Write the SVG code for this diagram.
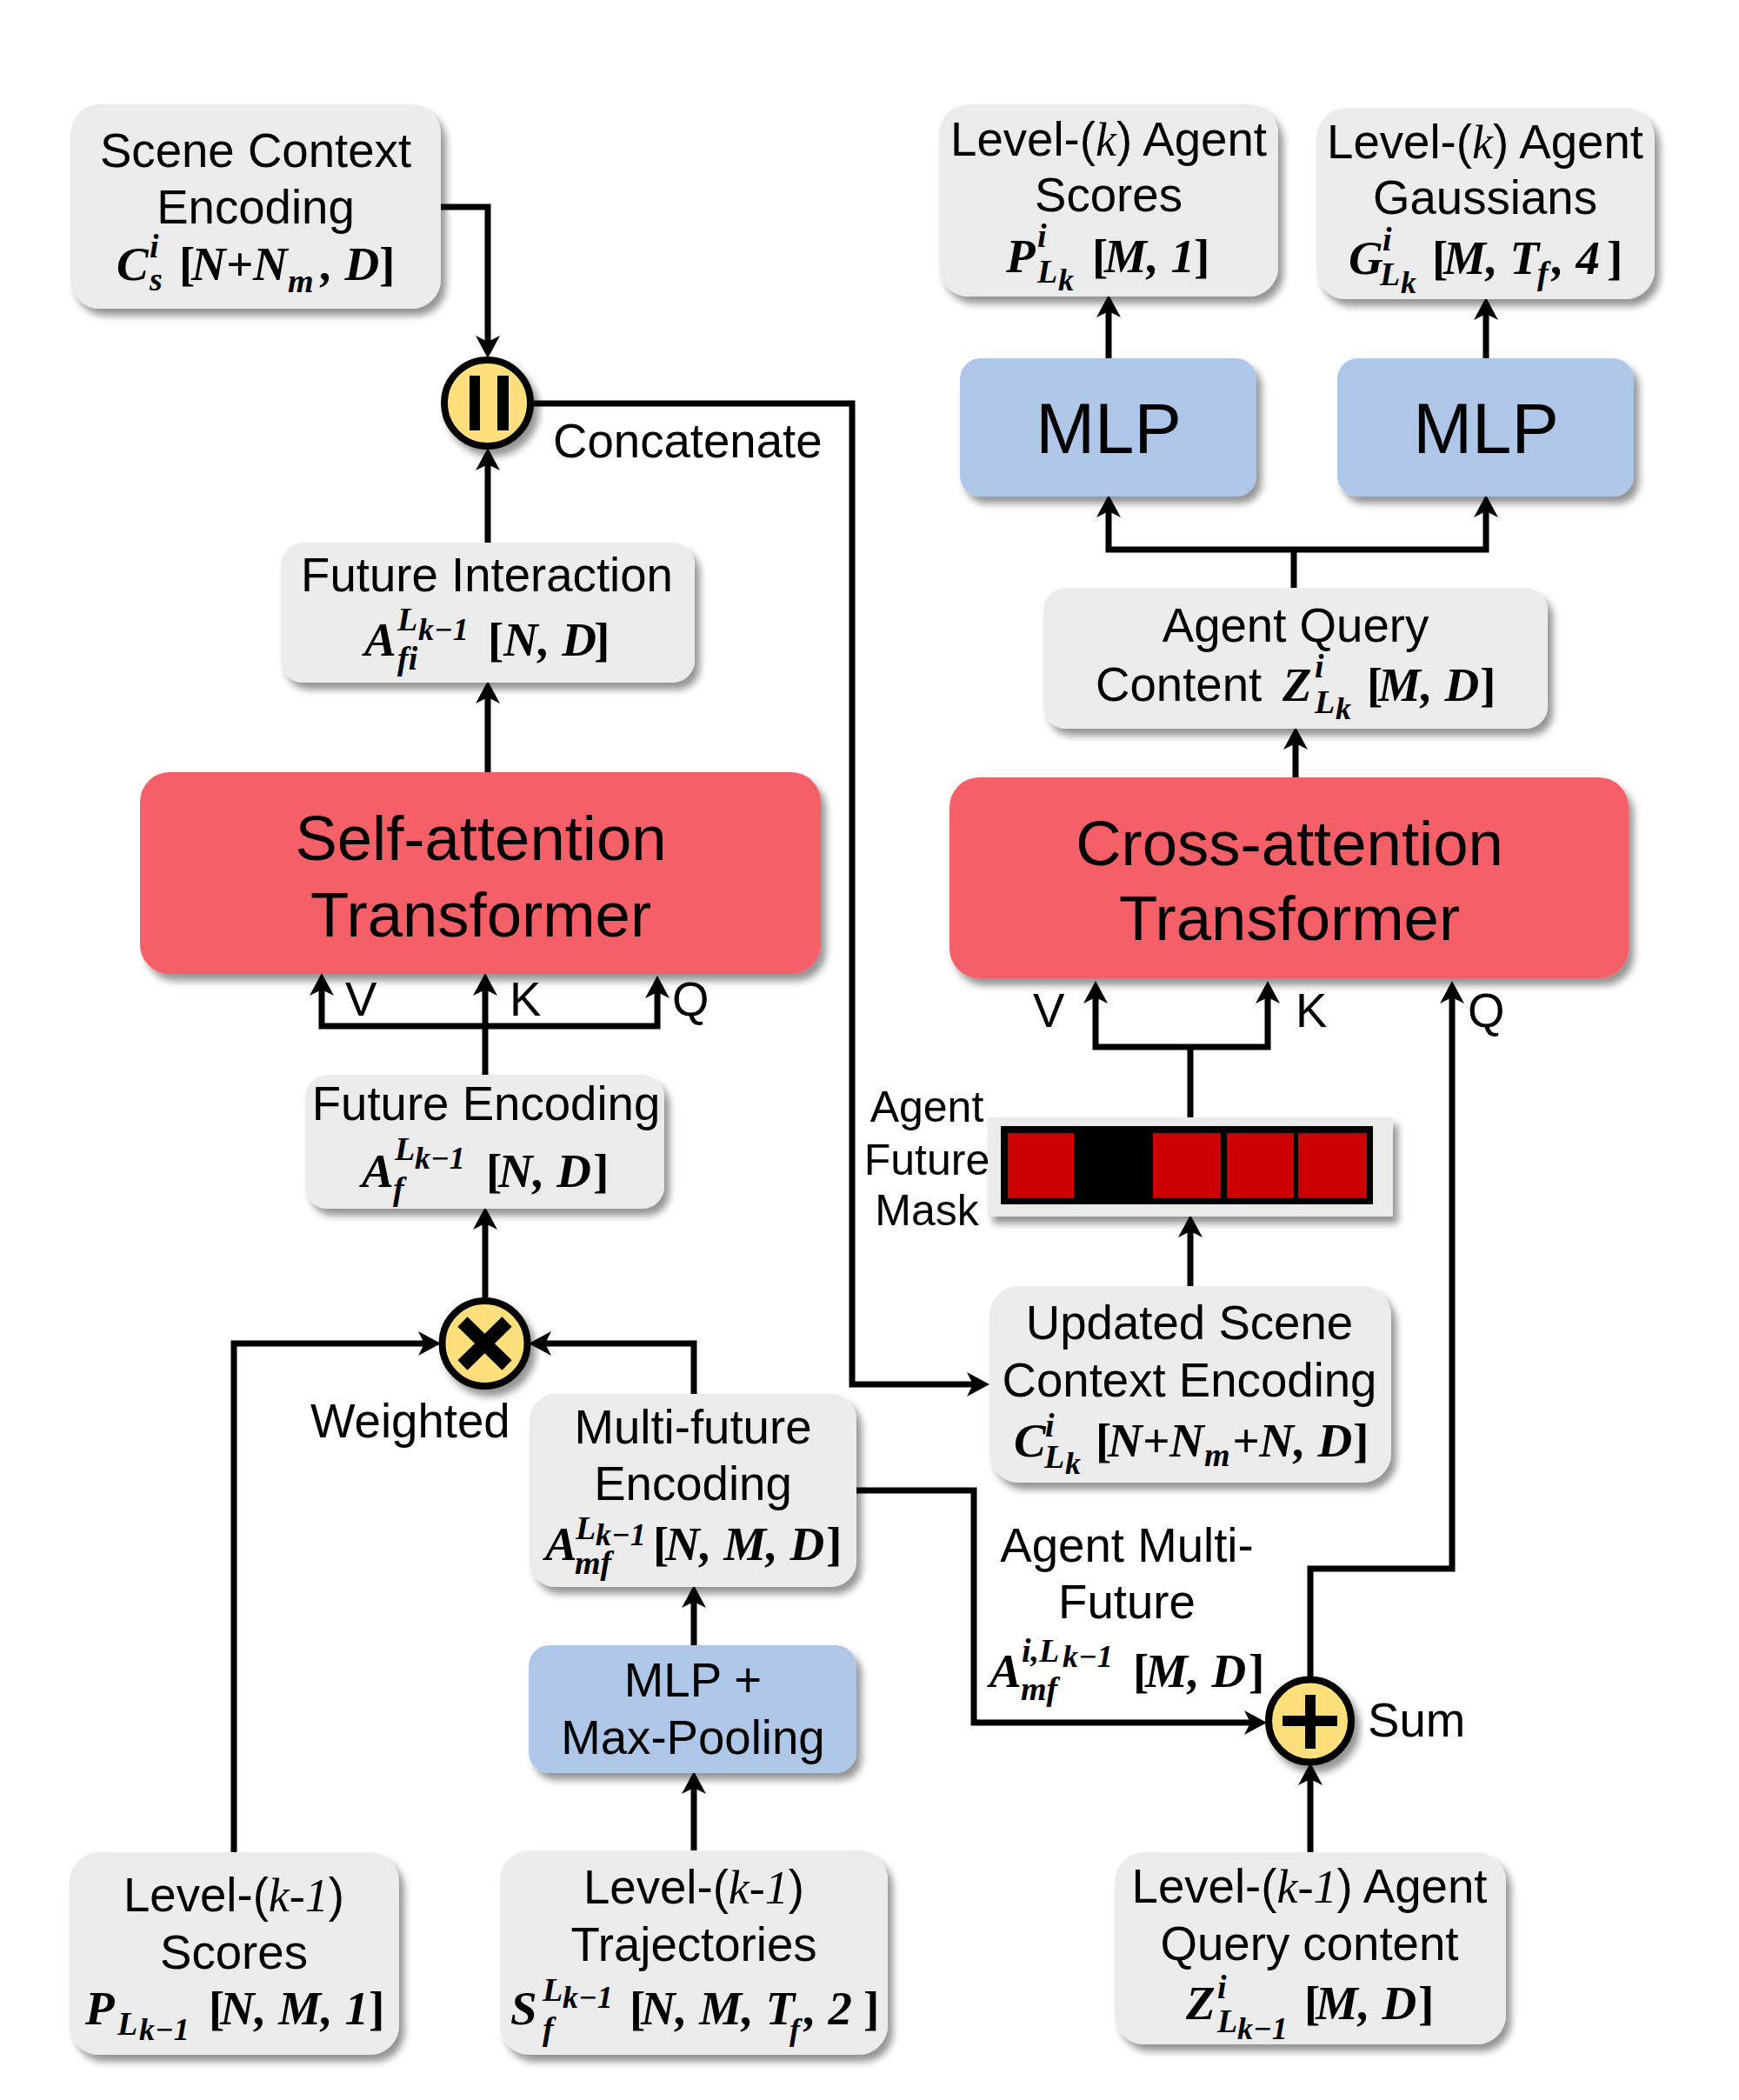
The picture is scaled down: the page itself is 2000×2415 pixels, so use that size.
<svg xmlns="http://www.w3.org/2000/svg" width="2000" height="2415" viewBox="0 0 2000 2415">
<style>
text{fill:#000}
.t{font-family:"Liberation Sans",Arial,sans-serif;font-size:54.6px;text-anchor:middle}
.l{font-family:"Liberation Sans",Arial,sans-serif;font-size:54.6px}
.big{font-size:72.5px}
.mlp{font-size:81.5px}
.m{font-family:"Liberation Serif","Times New Roman",serif;font-style:italic;font-size:54px}
.f{font-family:"Liberation Serif","Times New Roman",serif;font-style:italic;font-weight:bold;font-size:55px}
.b{font-style:normal}
.s1{font-size:38px}
.s2{font-size:36px}
.box{fill:#ebebeb;filter:url(#sh)}
.blue{fill:#aec6e8;filter:url(#sh)}
.red{fill:#f45f67;filter:url(#sh)}
.op{fill:#ffdf7b;stroke:#000;stroke-width:8;filter:url(#sh)}
.c{fill:none;stroke:#000;stroke-width:7;marker-end:url(#a)}
.p{fill:none;stroke:#000;stroke-width:7}
</style>
<defs>
<filter id="sh" x="-10%" y="-10%" width="125%" height="130%"><feDropShadow dx="6" dy="8" stdDeviation="4" flood-color="#000" flood-opacity="0.42"/></filter>
<marker id="a" markerUnits="userSpaceOnUse" markerWidth="26" markerHeight="28" viewBox="0 0 26 28" refX="14" refY="14" orient="auto"><path d="M26,14 L0,0 L7,14 L0,28 Z" fill="#000"/></marker>
</defs>
<rect width="2000" height="2415" fill="#fff"/>
<g id="connectors">
<path class="c" d="M507,238H561V400"/>
<path class="c" d="M561,625V527"/>
<path class="c" d="M614,464H980V1592H1126"/>
<path class="c" d="M561,888V795"/>
<path class="c" d="M557,1180H370V1131"/>
<path class="c" d="M557,1180H756V1134"/>
<path class="c" d="M558,1236V1131"/>
<path class="c" d="M558,1492V1400"/>
<path class="c" d="M269,2130V1545H495"/>
<path class="c" d="M798,1603V1545H620"/>
<path class="c" d="M798,2128V2049"/>
<path class="c" d="M798,1892V1835"/>
<path class="c" d="M985,1714H1120V1981H1445"/>
<path class="c" d="M1507,2130V2039"/>
<path class="c" d="M1507,1929V1804H1670V1140"/>
<path class="c" d="M1369,1479V1409"/>
<path class="c" d="M1369,1204H1260V1140"/>
<path class="c" d="M1369,1204H1458V1140"/>
<path class="p" d="M1369,1285V1204"/>
<path class="p" d="M1488,676V632"/>
<path class="c" d="M1488,632H1275V581"/>
<path class="c" d="M1488,632H1709V581"/>
<path class="c" d="M1490,894V848"/>
<path class="c" d="M1275,412V351"/>
<path class="c" d="M1709,412V354"/>
</g>
<g id="scene-context">
<rect class="box" x="81" y="120" width="426" height="235" rx="34"/>
<text class="t" x="294" y="192">Scene Context</text>
<text class="t" x="294" y="257">Encoding</text>
<text class="f" y="322"><tspan x="134">C</tspan><tspan class="s1" x="172" y="296">i</tspan><tspan class="s1" x="172" y="334">s</tspan><tspan class="b" x="206" y="322">[</tspan><tspan x="220">N+N</tspan><tspan class="s1" x="331" y="336">m</tspan><tspan x="369" y="322">, D</tspan><tspan class="b" x="436">]</tspan></text>
</g>
<g id="concatenate">
<circle class="op" cx="560.5" cy="463.5" r="49.5"/>
<rect x="540" y="432" width="12" height="63"/>
<rect x="572" y="432" width="13" height="63"/>
<text class="l" x="636" y="526">Concatenate</text>
</g>
<g id="future-interaction">
<rect class="box" x="323" y="624" width="476" height="161" rx="26"/>
<text class="t" x="560" y="680">Future Interaction</text>
<text class="f" y="754"><tspan x="419">A</tspan><tspan class="s1" x="457" y="725">L</tspan><tspan class="s2" x="481" y="736">k−1</tspan><tspan class="s1" x="457" y="770">fi</tspan><tspan class="b" x="561" y="754">[</tspan><tspan x="579">N, D</tspan><tspan class="b" x="683">]</tspan></text>
</g>
<g id="self-attention">
<rect class="red" x="161" y="888" width="783" height="232" rx="34"/>
<text class="t big" x="553" y="989">Self-attention</text>
<text class="t big" x="553" y="1077">Transformer</text>
</g>
<g id="self-labels">
<text class="l" x="397" y="1168">V</text>
<text class="l" x="586" y="1168">K</text>
<text class="l" x="773" y="1168">Q</text>
</g>
<g id="future-encoding">
<rect class="box" x="351" y="1236" width="413" height="154" rx="26"/>
<text class="t" x="559" y="1288">Future Encoding</text>
<text class="f" y="1365"><tspan x="416">A</tspan><tspan class="s1" x="454" y="1334">L</tspan><tspan class="s2" x="477" y="1344">k−1</tspan><tspan class="s1" x="452" y="1380">f</tspan><tspan class="b" x="559" y="1365">[</tspan><tspan x="573">N, D</tspan><tspan class="b" x="682">]</tspan></text>
</g>
<g id="weighted">
<circle class="op" cx="557.5" cy="1545" r="49"/>
<path d="M532,1520L583,1570M583,1520L532,1570" stroke="#000" stroke-width="16" fill="none"/>
<text class="l" x="357" y="1653">Weighted</text>
</g>
<g id="multi-future">
<rect class="box" x="609" y="1603" width="376" height="222" rx="30"/>
<text class="t" x="797" y="1660">Multi-future</text>
<text class="t" x="797" y="1725">Encoding</text>
<text class="f" y="1794"><tspan x="627">A</tspan><tspan class="s1" x="662" y="1770">L</tspan><tspan class="s2" x="685" y="1777">k−1</tspan><tspan class="s1" x="661" y="1810">mf</tspan><tspan class="b" x="751" y="1794">[</tspan><tspan x="765">N, M, D</tspan><tspan class="b" x="950">]</tspan></text>
</g>
<g id="mlp-pool">
<rect class="blue" x="608" y="1892" width="377" height="147" rx="24"/>
<text class="t" x="797" y="1951">MLP +</text>
<text class="t" x="797" y="2017">Max-Pooling</text>
</g>
<g id="scores-prev">
<rect class="box" x="80" y="2130" width="379" height="233" rx="34"/>
<text class="t" x="269" y="2198">Level-(<tspan class="m">k-1</tspan>)</text>
<text class="t" x="269" y="2264">Scores</text>
<text class="f" y="2328"><tspan x="98">P</tspan><tspan class="s1" x="135" y="2340">L</tspan><tspan class="s2" x="160" y="2346">k−1</tspan><tspan class="b" x="240" y="2328">[</tspan><tspan x="253">N, M, 1</tspan><tspan class="b" x="424">]</tspan></text>
</g>
<g id="trajectories">
<rect class="box" x="575" y="2128" width="446" height="235" rx="34"/>
<text class="t" x="798" y="2189">Level-(<tspan class="m">k-1</tspan>)</text>
<text class="t" x="798" y="2255">Trajectories</text>
<text class="f" y="2328"><tspan x="587">S</tspan><tspan class="s1" x="624" y="2301">L</tspan><tspan class="s2" x="647" y="2309">k−1</tspan><tspan class="s1" x="624" y="2346">f</tspan><tspan class="b" x="724" y="2328">[</tspan><tspan x="737">N, M, T</tspan><tspan class="s2" x="908" y="2346">f</tspan><tspan x="925" y="2328">, 2</tspan><tspan class="b" x="993">]</tspan></text>
</g>
<g id="query-prev">
<rect class="box" x="1282" y="2130" width="450" height="221" rx="34"/>
<text class="t" x="1506" y="2188">Level-(<tspan class="m">k-1</tspan>) Agent</text>
<text class="t" x="1506" y="2254">Query content</text>
<text class="f" y="2322"><tspan x="1364">Z</tspan><tspan class="s1" x="1400" y="2298">i</tspan><tspan class="s1" x="1400" y="2337">L</tspan><tspan class="s2" x="1423" y="2345">k−1</tspan><tspan class="b" x="1500" y="2322">[</tspan><tspan x="1513">M, D</tspan><tspan class="b" x="1631">]</tspan></text>
</g>
<g id="sum">
<circle class="op" cx="1506.5" cy="1979" r="47.5"/>
<rect x="1475" y="1973" width="63" height="12"/>
<rect x="1501" y="1949" width="12" height="62"/>
<text class="l" x="1573" y="1997">Sum</text>
</g>
<g id="agent-multi-future">
<text class="t" x="1296" y="1796">Agent Multi-</text>
<text class="t" x="1296" y="1861">Future</text>
<text class="f" y="1940"><tspan x="1138">A</tspan><tspan class="s1" x="1175" y="1911">i,L</tspan><tspan class="s2" x="1222" y="1917">k−1</tspan><tspan class="s1" x="1174" y="1955">mf</tspan><tspan class="b" x="1303" y="1940">[</tspan><tspan x="1317">M, D</tspan><tspan class="b" x="1436">]</tspan></text>
</g>
<g id="updated-scene">
<rect class="box" x="1138" y="1479" width="462" height="226" rx="34"/>
<text class="t" x="1368" y="1540">Updated Scene</text>
<text class="t" x="1368" y="1606">Context Encoding</text>
<text class="f" y="1675"><tspan x="1166">C</tspan><tspan class="s1" x="1202" y="1652">i</tspan><tspan class="s1" x="1201" y="1688">L</tspan><tspan class="s2" x="1225" y="1695">k</tspan><tspan class="b" x="1260" y="1675">[</tspan><tspan x="1274">N+N</tspan><tspan class="s1" x="1385" y="1686">m</tspan><tspan x="1417" y="1675">+N, D</tspan><tspan class="b" x="1556">]</tspan></text>
</g>
<g id="agent-future-mask">
<rect x="1136" y="1285" width="466" height="114" fill="#ebebeb" filter="url(#sh)"/>
<rect x="1151" y="1295" width="428" height="90"/>
<g fill="#cc0000">
<rect x="1159" y="1303" width="76" height="75"/>
<rect x="1326" y="1303" width="78" height="75"/>
<rect x="1411" y="1303" width="77" height="75"/>
<rect x="1493" y="1303" width="79" height="75"/>
</g>
<text class="t" x="1066" y="1290" style="font-size:50px">Agent</text>
<text class="t" x="1066" y="1351" style="font-size:50px">Future</text>
<text class="t" x="1066" y="1409" style="font-size:50px">Mask</text>
</g>
<g id="cross-labels">
<text class="l" x="1188" y="1181">V</text>
<text class="l" x="1490" y="1181">K</text>
<text class="l" x="1688" y="1181">Q</text>
</g>
<g id="cross-attention">
<rect class="red" x="1092" y="894" width="781" height="231" rx="34"/>
<text class="t big" x="1483" y="995">Cross-attention</text>
<text class="t big" x="1483" y="1081">Transformer</text>
</g>
<g id="agent-query">
<rect class="box" x="1200" y="676" width="580" height="162" rx="26"/>
<text class="t" x="1490" y="738">Agent Query</text>
<text class="l" x="1260" y="806">Content</text>
<text class="f" y="806"><tspan x="1475">Z</tspan><tspan class="s1" x="1512" y="779">i</tspan><tspan class="s1" x="1512" y="820">L</tspan><tspan class="s2" x="1536" y="827">k</tspan><tspan class="b" x="1572" y="806">[</tspan><tspan x="1585">M, D</tspan><tspan class="b" x="1702">]</tspan></text>
</g>
<g id="mlp-1">
<rect class="blue" x="1104" y="412" width="341" height="159" rx="24"/>
<text class="t mlp" x="1275" y="521">MLP</text>
</g>
<g id="mlp-2">
<rect class="blue" x="1538" y="412" width="341" height="159" rx="24"/>
<text class="t mlp" x="1709" y="521">MLP</text>
</g>
<g id="agent-scores">
<rect class="box" x="1080" y="120" width="390" height="221" rx="34"/>
<text class="t" x="1275" y="179">Level-(<tspan class="m">k</tspan>) Agent</text>
<text class="t" x="1275" y="243">Scores</text>
<text class="f" y="313"><tspan x="1157">P</tspan><tspan class="s1" x="1193" y="284">i</tspan><tspan class="s1" x="1193" y="325">L</tspan><tspan class="s2" x="1217" y="334">k</tspan><tspan class="b" x="1256" y="313">[</tspan><tspan x="1270">M, 1</tspan><tspan class="b" x="1373">]</tspan></text>
</g>
<g id="agent-gaussians">
<rect class="box" x="1514" y="124" width="389" height="220" rx="34"/>
<text class="t" x="1708" y="182">Level-(<tspan class="m">k</tspan>) Agent</text>
<text class="t" x="1708" y="246">Gaussians</text>
<text class="f" y="315"><tspan x="1551">G</tspan><tspan class="s1" x="1590" y="288">i</tspan><tspan class="s1" x="1587" y="328">L</tspan><tspan class="s2" x="1611" y="337">k</tspan><tspan class="b" x="1647" y="315">[</tspan><tspan x="1660">M, T</tspan><tspan class="s1" x="1768" y="327">f</tspan><tspan x="1785" y="315">, 4</tspan><tspan class="b" x="1848">]</tspan></text>
</g>
</svg>
